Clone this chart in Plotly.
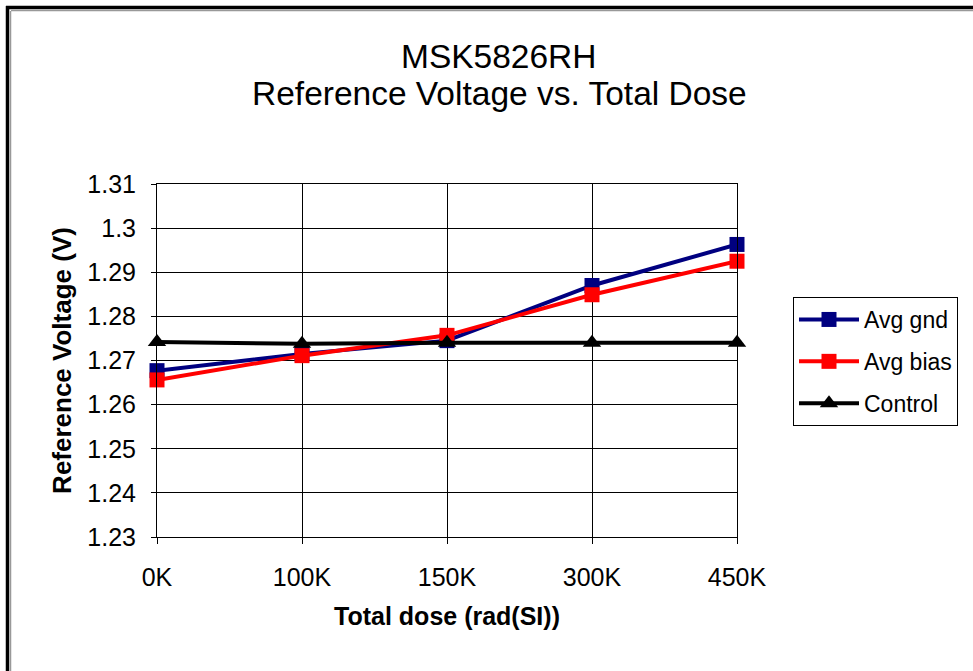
import plotly.graph_objects as go

categories = ["0K", "100K", "150K", "300K", "450K"]
avg_gnd = [1.2677, 1.2715, 1.2745, 1.2870, 1.2963]
avg_bias = [1.2656, 1.2711, 1.2757, 1.2849, 1.2925]
control = [1.2742, 1.2738, 1.2740, 1.2740, 1.2740]
y_ticks = [1.23, 1.24, 1.25, 1.26, 1.27, 1.28, 1.29, 1.30, 1.31]
y_tick_text = ["1.23", "1.24", "1.25", "1.26", "1.27", "1.28", "1.29", "1.3", "1.31"]
title_lines = ["MSK5826RH", "Reference Voltage vs. Total Dose"]

W, H = 973, 671
L, R, T, B = 157, 737, 184, 537
FONT = "Liberation Sans, Arial, sans-serif"

xs = list(range(len(categories)))

fig = go.Figure()
fig.add_trace(go.Scatter(x=xs, y=avg_gnd, name="Avg gnd", mode="lines+markers",
                         line=dict(color="#000080", width=4),
                         marker=dict(symbol="square", size=15, color="#000080"),
                         legendgroup="a", cliponaxis=False))
fig.add_trace(go.Scatter(x=xs, y=avg_bias, name="Avg bias", mode="lines+markers",
                         line=dict(color="#ff0000", width=4),
                         marker=dict(symbol="square", size=15, color="#ff0000"),
                         legendgroup="b", cliponaxis=False))
fig.add_trace(go.Scatter(x=xs, y=control, name="Control", mode="lines+markers",
                         line=dict(color="#000000", width=4),
                         marker=dict(symbol="triangle-up", size=16, color="#000000"),
                         legendgroup="c", cliponaxis=False))

def px(xp):
    return (xp - L) / (R - L)

def py(yp):
    return 1 - (yp - T) / (B - T)

shapes = [
    dict(type="line", xref="paper", yref="paper", x0=px(6), x1=px(973), y0=py(7.5), y1=py(7.5),
         line=dict(color="black", width=3.5)),
    dict(type="line", xref="paper", yref="paper", x0=px(7.5), x1=px(7.5), y0=py(6), y1=py(671),
         line=dict(color="black", width=3.5)),
    dict(type="line", xref="paper", yref="paper", x0=px(11), x1=px(973), y0=py(10.5), y1=py(10.5),
         line=dict(color="#999999", width=1.5)),
    dict(type="line", xref="paper", yref="paper", x0=px(10.5), x1=px(10.5), y0=py(11), y1=py(671),
         line=dict(color="#999999", width=1.5)),
]

annotations = [
    dict(text=title_lines[0], xref="paper", yref="paper", x=px(499), y=py(56),
         xanchor="center", yanchor="middle", showarrow=False,
         font=dict(family=FONT, size=33.5, color="black")),
    dict(text=title_lines[1], xref="paper", yref="paper", x=px(499), y=py(94),
         xanchor="center", yanchor="middle", showarrow=False,
         font=dict(family=FONT, size=33.5, color="black")),
]

fig.update_layout(
    width=W, height=H,
    margin=dict(l=L, r=W - R, t=T, b=H - B, pad=0),
    paper_bgcolor="white", plot_bgcolor="white",
    font=dict(family=FONT, color="black", size=25),
    showlegend=True,
    legend=dict(x=px(793), y=py(297), xanchor="left", yanchor="top",
                bgcolor="white", bordercolor="black", borderwidth=1,
                font=dict(family=FONT, size=23), tracegroupgap=9,
                itemwidth=60),
    shapes=shapes,
    annotations=annotations,
    xaxis=dict(range=[0, 4], tickmode="array", tickvals=xs, ticktext=categories,
               showgrid=True, gridcolor="black", gridwidth=1,
               showline=True, linecolor="black", linewidth=1, mirror=True,
               ticks="outside", ticklen=6, tickcolor="black", ticklabelstandoff=12,
               zeroline=False, fixedrange=True,
               title=dict(text="<b>Total dose (rad(SI))</b>", standoff=17,
                          font=dict(family=FONT, size=25))),
    yaxis=dict(range=[1.23, 1.31], tickmode="array", tickvals=y_ticks, ticktext=y_tick_text,
               showgrid=True, gridcolor="black", gridwidth=1,
               showline=True, linecolor="black", linewidth=1, mirror=True,
               ticks="outside", ticklen=5, tickcolor="black", ticklabelstandoff=10,
               zeroline=False, fixedrange=True,
               title=dict(text="<b>Reference Voltage (V)</b>", standoff=8,
                          font=dict(family=FONT, size=26))),
)

fig.write_html("out.html", config={"displayModeBar": False},
               post_script="document.body.style.margin='0px';")
